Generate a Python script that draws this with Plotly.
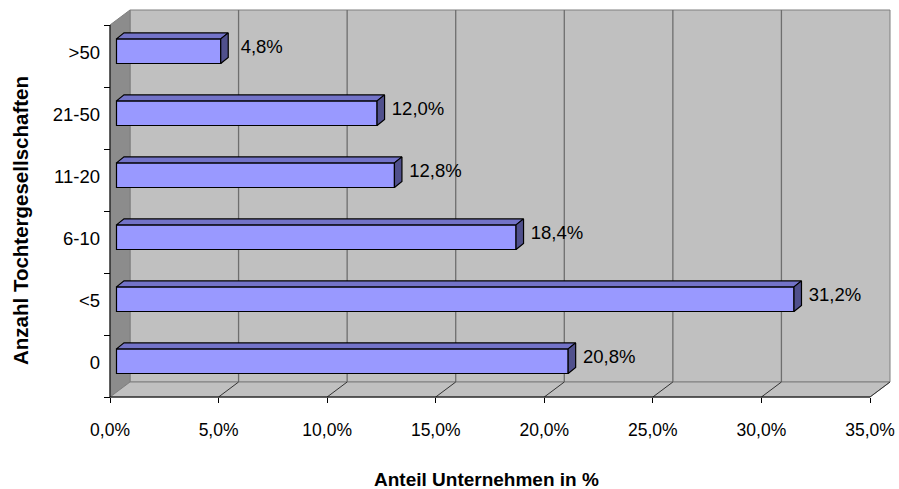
import plotly.graph_objects as go

# Anzahl Tochtergesellschaften (bottom to top) and share of companies in %
categories = ["0", "<5", "6-10", "11-20", "21-50", ">50"]
shares = [20.8, 31.2, 18.4, 12.8, 12.0, 4.8]
x_ticks = [0, 5, 10, 15, 20, 25, 30, 35]
x_tick_labels = ["0,0%", "5,0%", "10,0%", "15,0%", "20,0%", "25,0%", "30,0%", "35,0%"]

FONT = "Liberation Sans, Arial, sans-serif"

# --- pixel geometry of the plot area -------------------------------------
W, H = 899, 489
ML, MR, MT, MB = 100, 0, 0, 80
PLOT_W, PLOT_H = W - ML - MR, H - MT - MB
X0_PX, X35_PX = 110, 870          # front-plane position of 0 % and 35 %
PX_PER_PCT = (X35_PX - X0_PX) / 35.0
FLOOR_PX = 397                    # front-plane bottom edge
PX_PER_CAT = 62.0

x_range = [(ML - X0_PX) / PX_PER_PCT, (ML + PLOT_W - X0_PX) / PX_PER_PCT]
y_range = [-0.5 - (MT + PLOT_H - FLOOR_PX) / PX_PER_CAT, -0.5 + (FLOOR_PX - MT) / PX_PER_CAT]

# depth of the 3-D box (back wall offset) in data units
WALL_DX = 20 / PX_PER_PCT
WALL_DY = 15 / PX_PER_CAT
# bar placement inside the box
BAR_X0 = 6.5 / PX_PER_PCT
BAR_YSHIFT = 4.8 / PX_PER_CAT
BAR_H = 24.6 / PX_PER_CAT
BAR_DX = 7.5 / PX_PER_PCT
BAR_DY = 6 / PX_PER_CAT
LABEL_DX = 47.5 / PX_PER_PCT

XMAX = x_ticks[-1]
YLO, YHI = -0.5, len(categories) - 0.5

FRONT = "#9999FF"
TOP = "#7373C8"
SIDE = "#50508C"

fig = go.Figure()

# --- box: left wall, floor, back wall, gridlines --------------------------
shapes = []
shapes.append(dict(type="rect", xref="x", yref="y", layer="below",
                   x0=WALL_DX, x1=XMAX + WALL_DX, y0=YLO + WALL_DY, y1=YHI + WALL_DY,
                   fillcolor="#C0C0C0", line=dict(color="#7F7F7F", width=1)))
shapes.append(dict(type="path", xref="x", yref="y", layer="below",
                   path=f"M 0,{YLO} L {WALL_DX},{YLO + WALL_DY} L {WALL_DX},{YHI + WALL_DY} L 0,{YHI} Z",
                   fillcolor="#8C8C8C", line=dict(color="#7F7F7F", width=1)))
shapes.append(dict(type="path", xref="x", yref="y", layer="below",
                   path=f"M 0,{YLO} L {XMAX},{YLO} L {XMAX + WALL_DX},{YLO + WALL_DY} L {WALL_DX},{YLO + WALL_DY} Z",
                   fillcolor="#C0C0C0", line=dict(color="#7F7F7F", width=1)))
for t in x_ticks[1:-1]:
    shapes.append(dict(type="line", xref="x", yref="y", layer="below",
                       x0=t + WALL_DX, x1=t + WALL_DX, y0=YLO + WALL_DY, y1=YHI + WALL_DY,
                       line=dict(color="#6E6E6E", width=1.3)))
for t in x_ticks[1:]:
    shapes.append(dict(type="line", xref="x", yref="y", layer="below",
                       x0=t, x1=t + WALL_DX, y0=YLO, y1=YLO + WALL_DY,
                       line=dict(color="#333333", width=1)))
# axis lines on the front plane
shapes.append(dict(type="line", xref="x", yref="y", x0=0, x1=XMAX, y0=YLO, y1=YLO,
                   line=dict(color="black", width=1)))
shapes.append(dict(type="line", xref="x", yref="y", x0=0, x1=0, y0=YLO, y1=YHI,
                   line=dict(color="black", width=1)))

# --- bars: front faces -----------------------------------------------------
ypos = [i + BAR_YSHIFT for i in range(len(categories))]
fig.add_trace(go.Bar(
    orientation="h", y=ypos, x=shares, base=BAR_X0, width=BAR_H,
    marker=dict(color=FRONT, line=dict(color="black", width=1.2)),
    hoverinfo="skip", showlegend=False,
))

# --- bars: top and side faces ---------------------------------------------
for y, v in zip(ypos, shares):
    x_l, x_r = BAR_X0, BAR_X0 + v
    y_t, y_b = y + BAR_H / 2, y - BAR_H / 2
    fig.add_trace(go.Scatter(
        x=[x_l, x_l + BAR_DX, x_r + BAR_DX, x_r, x_l],
        y=[y_t, y_t + BAR_DY, y_t + BAR_DY, y_t, y_t],
        mode="lines", fill="toself", fillcolor=TOP,
        line=dict(color="black", width=1.2), hoverinfo="skip", showlegend=False,
    ))
    fig.add_trace(go.Scatter(
        x=[x_r, x_r + BAR_DX, x_r + BAR_DX, x_r, x_r],
        y=[y_t, y_t + BAR_DY, y_b + BAR_DY, y_b, y_t],
        mode="lines", fill="toself", fillcolor=SIDE,
        line=dict(color="black", width=1.2), hoverinfo="skip", showlegend=False,
    ))

# --- value labels ------------------------------------------------------------
fig.add_trace(go.Scatter(
    x=[v + LABEL_DX for v in shares],
    y=[y + BAR_DY / 2 for y in ypos],
    mode="text",
    text=[f"{v:.1f}".replace(".", ",") + "%" for v in shares],
    textposition="middle center",
    textfont=dict(family=FONT, size=18.5, color="black"),
    hoverinfo="skip", showlegend=False, cliponaxis=False,
))

fig.update_layout(
    width=W, height=H,
    margin=dict(l=ML, r=MR, t=MT, b=MB, pad=0),
    paper_bgcolor="white", plot_bgcolor="rgba(0,0,0,0)",
    shapes=shapes,
    showlegend=False,
    xaxis=dict(
        range=x_range, anchor="free",
        position=(MT + PLOT_H - FLOOR_PX) / PLOT_H,
        tickmode="array", tickvals=x_ticks, ticktext=x_tick_labels,
        ticks="outside", ticklen=5, tickcolor="black", tickwidth=1,
        ticklabelstandoff=12,
        tickfont=dict(family=FONT, size=17.5, color="black"),
        showgrid=False, zeroline=False, showline=False, fixedrange=True,
    ),
    yaxis=dict(
        range=y_range, anchor="free",
        position=(X0_PX - ML) / PLOT_W,
        tickmode="array",
        tickvals=[i + 0.05 for i in range(len(categories))], ticktext=categories,
        ticks="", ticklabelstandoff=10,
        minor=dict(tickvals=[YLO + i for i in range(len(categories) + 1)],
                   ticks="outside", ticklen=6, tickcolor="black", tickwidth=1,
                   showgrid=False),
        tickfont=dict(family=FONT, size=18.5, color="black"),
        showgrid=False, zeroline=False, showline=False, fixedrange=True,
    ),
    annotations=[
        dict(text="Anteil Unternehmen in %", xref="paper", yref="paper",
             x=(486 - ML) / PLOT_W, y=(MT + PLOT_H - 479) / PLOT_H,
             xanchor="center", yanchor="middle", showarrow=False,
             font=dict(family=FONT, size=19, color="black", weight="bold")),
        dict(text="Anzahl Tochtergesellschaften", xref="paper", yref="paper",
             x=(20 - ML) / PLOT_W, y=(MT + PLOT_H - 221) / PLOT_H,
             xanchor="center", yanchor="middle", showarrow=False, textangle=-90,
             font=dict(family=FONT, size=20.5, color="black", weight="bold")),
    ],
)

fig.write_html("out.html")
